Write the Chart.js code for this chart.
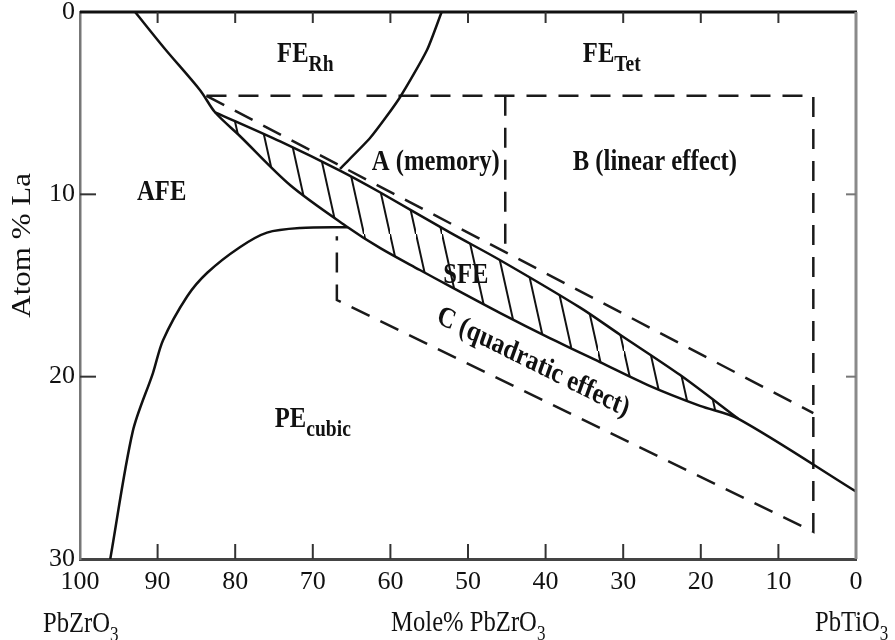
<!DOCTYPE html>
<html>
<head>
<meta charset="utf-8">
<script src="https://cdn.jsdelivr.net/npm/chart.js@4.4.1/dist/chart.umd.min.js"></script>
<style>
  html, body { margin: 0; background: #fff; }
</style>
</head>
<body>
<canvas id="c" width="895" height="640"></canvas>
<script>
// x = mole % PbZrO3 (axis runs 100 -> 0), y = atom % La (0 at top)
const xTicks = [100, 90, 80, 70, 60, 50, 40, 30, 20, 10, 0]
const yTicks = [0, 10, 20, 30]

// AFE / FE boundary, continues as lower edge of the SFE band
const afeX = [92.9, 89.1, 84.5, 82.6, 79.4, 72.9, 65.5, 61.3, 56.2, 52.3, 45.9, 39.4, 33.0, 26.6, 20.1, 15.2, 0]
const afeY = [0, 2.0, 4.3, 5.5, 6.8, 9.5, 11.8, 12.95, 14.15, 15.05, 16.5, 17.9, 19.2, 20.5, 21.6, 22.3, 26.3]
// upper edge of the SFE band
const sfeTopX = [82.6, 74.2, 66.5, 61.3, 52.3, 45.9, 35.6, 30.4, 22.7, 15.2]
const sfeTopY = [5.5, 7.1, 8.7, 9.9, 12.1, 13.6, 16.2, 17.7, 19.9, 22.3]
// FE rhombohedral / tetragonal boundary
const rhTetX = [53.4, 55.3, 58.8, 62.6, 66.5]
const rhTetY = [0, 2.1, 4.7, 6.9, 8.6]
// PE cubic boundary
const cubicX = [96.1, 93.2, 90.6, 89.3, 86.2, 83.6, 79.4, 75.9, 71.6, 65.5]
const cubicY = [30, 23.0, 19.8, 18.0, 15.6, 14.3, 12.9, 12.1, 11.85, 11.8]

// dashed outlines of regions A, B, C
const boxX = [83.7, 5.5, 5.5, 66.9, 66.9]
const boxY = [4.6, 4.6, 28.5, 15.8, 12.3]
const diagX = [83.7, 5.5]
const diagY = [4.6, 22.0]
const splitX = [45.2, 45.2]
const splitY = [4.6, 13.3]

const pts = (xs, ys) => xs.map((x, i) => ({ x, y: ys[i] }))

// lower edge of the band is the matching part of the AFE line
const sfeLowX = afeX.slice(3, 16)
const sfeLowY = afeY.slice(3, 16)

const INK = '#111'
const SERIF = "'Liberation Serif', 'Times New Roman', serif"
const SQUISH = 0.85

// hatch pattern for the SFE band
const tile = document.createElement('canvas')
tile.width = 26
tile.height = 117
const tc = tile.getContext('2d')
tc.strokeStyle = INK
tc.lineWidth = 2
tc.beginPath()
tc.moveTo(-2, -9)
tc.lineTo(28, 126)
tc.stroke()
const hatch = document.getElementById('c').getContext('2d').createPattern(tile, 'repeat')

function solid(data, extra) {
  return Object.assign({
    data,
    showLine: true,
    borderColor: INK,
    borderWidth: 2.5,
    pointRadius: 0,
    tension: 0.3,
    fill: false,
  }, extra)
}
function dashed(data) {
  return solid(data, { borderDash: [20, 12], tension: 0, borderColor: '#1a1a1a' })
}

// text placed on the diagram: anchor is left end of the baseline
const notes = [
  { text: 'AFE', x: 92.65, y: 10.3 },
  { text: 'FE', sub: 'Rh', x: 74.6, y: 2.74 },
  { text: 'FE', sub: 'Tet', x: 35.2, y: 2.74 },
  { text: 'A (memory)', x: 62.4, y: 8.67 },
  { text: 'B (linear effect)', x: 36.5, y: 8.67 },
  { text: 'SFE', x: 53.2, y: 14.87 },
  { text: 'PE', sub: 'cubic', x: 74.9, y: 22.76 },
  { text: 'C (quadratic effect)', x: 54.2, y: 17.0, angle: 23 },
]

function drawText(ctx, px, py, main, sub, size, angle, weight) {
  ctx.save()
  ctx.translate(px, py)
  ctx.scale(SQUISH, 1)
  if (angle) ctx.rotate(angle * Math.PI / 180)
  ctx.font = (weight || '') + ' ' + size + 'px ' + SERIF
  ctx.fillText(main, 0, 0)
  if (sub) {
    const w = ctx.measureText(main).width
    const subSize = weight ? Math.round(size * 0.78) : Math.round(size * 0.68)
    ctx.font = (weight || '') + ' ' + subSize + 'px ' + SERIF
    ctx.fillText(sub, w, size * 0.3)
  }
  ctx.restore()
}

const decor = {
  id: 'decor',
  afterDraw(chart) {
    const { ctx, chartArea: a, scales: { x, y } } = chart
    ctx.save()
    ctx.lineCap = 'butt'
    const seg = (x1, y1, x2, y2, color, w) => {
      ctx.strokeStyle = color
      ctx.lineWidth = w
      ctx.beginPath()
      ctx.moveTo(x1, y1)
      ctx.lineTo(x2, y2)
      ctx.stroke()
    }
    // top and right frame
    seg(a.left, a.top, a.right + 1, a.top, INK, 3)
    seg(a.right, a.top, a.right, a.bottom, '#8a8a8a', 3)
    // inward ticks
    xTicks.slice(1, -1).forEach((v) => {
      const px = x.getPixelForValue(v)
      seg(px, a.bottom, px, a.bottom - 15, '#333', 2)
      seg(px, a.top, px, a.top + 11, '#333', 2)
    })
    yTicks.slice(1, -1).forEach((v) => {
      const py = y.getPixelForValue(v)
      seg(a.left, py, a.left + 16, py, '#333', 2)
      seg(a.right, py, a.right - 10, py, '#777', 2)
    })

    ctx.fillStyle = INK
    ctx.textBaseline = 'alphabetic'
    ctx.textAlign = 'left'
    notes.forEach((n) => {
      drawText(ctx, x.getPixelForValue(n.x), y.getPixelForValue(n.y), n.text, n.sub, 29, n.angle, 'bold')
    })

    // axis titles and end members
    const base = a.bottom + 72
    ctx.save()
    ctx.font = '29px ' + SERIF
    const w1 = ctx.measureText('Mole% PbZrO').width * SQUISH
    ctx.restore()
    drawText(ctx, (a.left + a.right) / 2 - (w1 + 8) / 2, base, 'Mole% PbZrO', '3', 29)
    drawText(ctx, a.left - 37, base + 1, 'PbZrO', '3', 29)
    drawText(ctx, a.right - 41, base, 'PbTiO', '3', 29)

    ctx.save()
    ctx.translate(23, y.getPixelForValue(12.8))
    ctx.scale(SQUISH, 1)
    ctx.rotate(-Math.PI / 2)
    ctx.textAlign = 'center'
    ctx.textBaseline = 'middle'
    ctx.font = '31px ' + SERIF
    ctx.fillText('Atom % La', 0, 0)
    ctx.restore()

    ctx.restore()
  },
}

const tickFont = { family: SERIF, size: 26 }

new Chart(document.getElementById('c'), {
  type: 'scatter',
  data: {
    datasets: [
      solid(pts(sfeTopX, sfeTopY), { fill: 1, backgroundColor: hatch }),
      solid(pts(sfeLowX, sfeLowY), { borderWidth: 0 }),
      solid(pts(afeX, afeY)),
      solid(pts(rhTetX, rhTetY), { tension: 0.2 }),
      solid(pts(cubicX, cubicY)),
      dashed(pts(boxX, boxY)),
      dashed(pts(diagX, diagY)),
      dashed(pts(splitX, splitY)),
    ],
  },
  options: {
    responsive: false,
    animation: false,
    devicePixelRatio: 1,
    layout: { padding: { top: 12, right: 39, left: 0, bottom: 0 } },
    scales: {
      x: {
        type: 'linear',
        min: 0,
        max: 100,
        reverse: true,
        afterBuildTicks: (s) => { s.ticks = xTicks.map((v) => ({ value: v })) },
        afterFit: (s) => { s.height = 81 },
        grid: { drawOnChartArea: false, drawTicks: false },
        border: { display: true, color: '#444', width: 3 },
        ticks: { font: tickFont, color: INK, padding: 8, maxRotation: 0, autoSkip: false },
      },
      y: {
        type: 'linear',
        min: 0,
        max: 30,
        reverse: true,
        afterBuildTicks: (s) => { s.ticks = yTicks.map((v) => ({ value: v })) },
        afterFit: (s) => {
          s.width = 80
          s.paddingTop = 0
          s.paddingBottom = 0
        },
        grid: { drawOnChartArea: false, drawTicks: false },
        border: { display: true, color: '#777', width: 2.5 },
        ticks: { font: tickFont, color: INK, padding: 5, autoSkip: false },
      },
    },
    plugins: {
      legend: { display: false },
      tooltip: { enabled: false },
    },
  },
  plugins: [decor],
})
</script>
</body>
</html>
